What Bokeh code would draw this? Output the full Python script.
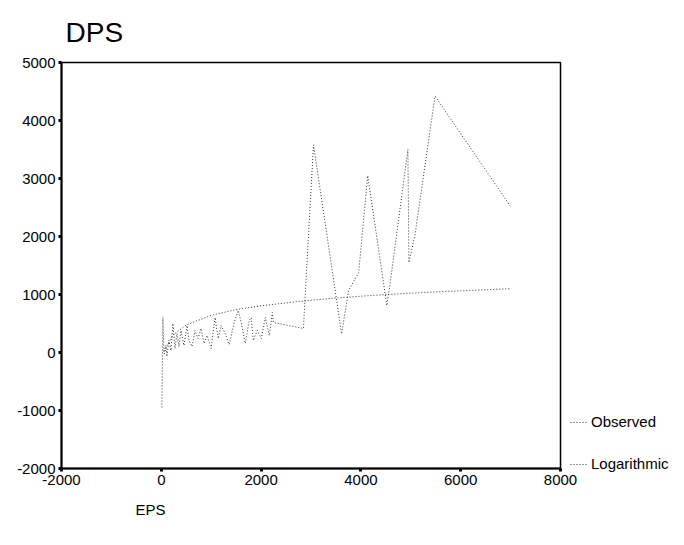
from bokeh.plotting import figure
from bokeh.models import FixedTicker, Legend, LegendItem, Title, Range1d
from bokeh.embed import file_html
from bokeh.resources import INLINE

# Observed data (EPS -> DPS), sorted by EPS
obs_eps = [12, 32, 52, 92, 113, 153, 193, 233, 273, 314, 354, 394, 455, 515, 555,
           616, 676, 736, 797, 857, 918, 998, 1078, 1139, 1199, 1280, 1360, 1461,
           1541, 1602, 1682, 1762, 1803, 1843, 1923, 2004, 2084, 2165, 2225, 2245,
           2849, 2889, 3050, 3614, 3754, 3956, 4137, 4520, 4580, 4942, 4962, 5082,
           5485, 7014]
obs_dps = [-948, 603, 0, 120, -69, 207, 34, 500, 69, 328, 103, 379, 121, 465, 207,
           103, 379, 241, 414, 155, 293, 69, 603, 241, 465, 328, 138, 517,
           724, 517, 155, 552, 603, 207, 379, 241, 603, 293, 690, 517,
           414, 1069, 3580, 320, 1069, 1379, 3050, 810, 1155, 3500, 1551, 2017,
           4420, 2500]

# Logarithmic fit curve
fit_eps = [60, 100, 250, 500, 1000, 1500, 2000, 2800, 3500, 4500, 5500, 7000]
fit_dps = [-25, 95, 315, 475, 640, 740, 805, 885, 940, 1000, 1045, 1100]

x_ticks = [-2000, 0, 2000, 4000, 6000, 8000]
y_ticks = [-2000, -1000, 0, 1000, 2000, 3000, 4000, 5000]

FONT = "Liberation Sans"

p = figure(frame_width=499, frame_height=406, output_backend="svg", toolbar_location=None,
           x_range=Range1d(-2000, 8000), y_range=Range1d(-2000, 5000),
           min_border_left=61, min_border_right=124, min_border_top=62,
           min_border_bottom=77)

p.title.text = "DPS"
p.title.text_font = FONT
p.title.text_font_size = "28px"
p.title.text_font_style = "normal"
p.title.text_color = "black"
p.title.align = "left"
p.title.vertical_align = "top"
p.title.offset = 4
p.title.standoff = 26

p.add_layout(Title(text="EPS", align="left", offset=74, text_font=FONT,
                   text_font_size="15px", text_font_style="normal",
                   text_color="black", standoff=22), "below")

p.xgrid.visible = False
p.ygrid.visible = False
p.outline_line_color = "black"
p.outline_line_width = 1.5
p.background_fill_color = "white"
p.border_fill_color = "white"

for ax, ticks in ((p.xaxis, x_ticks), (p.yaxis, y_ticks)):
    ax.ticker = FixedTicker(ticks=ticks)
    ax.major_label_overrides = {t: str(t) for t in ticks}
    ax.minor_tick_line_color = None
    ax.major_tick_in = 0
    ax.major_tick_out = 3
    ax.major_tick_line_width = 3
    ax.major_tick_line_color = "black"
    ax.axis_line_color = "black"
    ax.axis_line_width = 2
    ax.major_label_text_font = FONT
    ax.major_label_text_font_size = "15px"
    ax.major_label_text_color = "black"
    ax.major_label_standoff = 3

obs = p.line(obs_eps, obs_dps, line_color="#333333", line_width=1, line_dash="1 2")
fit = p.line(fit_eps, fit_dps, line_color="#333333", line_width=1, line_dash="1 2")

legend = Legend(items=[LegendItem(label="Observed", renderers=[obs]),
                       LegendItem(label="Logarithmic", renderers=[fit])],
                location=(10, -4), label_text_font=FONT, label_text_color="black",
                label_text_font_size="15px", glyph_width=18, glyph_height=14,
                label_height=14, label_standoff=3, spacing=25, padding=0, margin=0,
                border_line_alpha=0, background_fill_alpha=0)
p.add_layout(legend, "right")

open("out.html", "w").write(file_html(p, INLINE))
